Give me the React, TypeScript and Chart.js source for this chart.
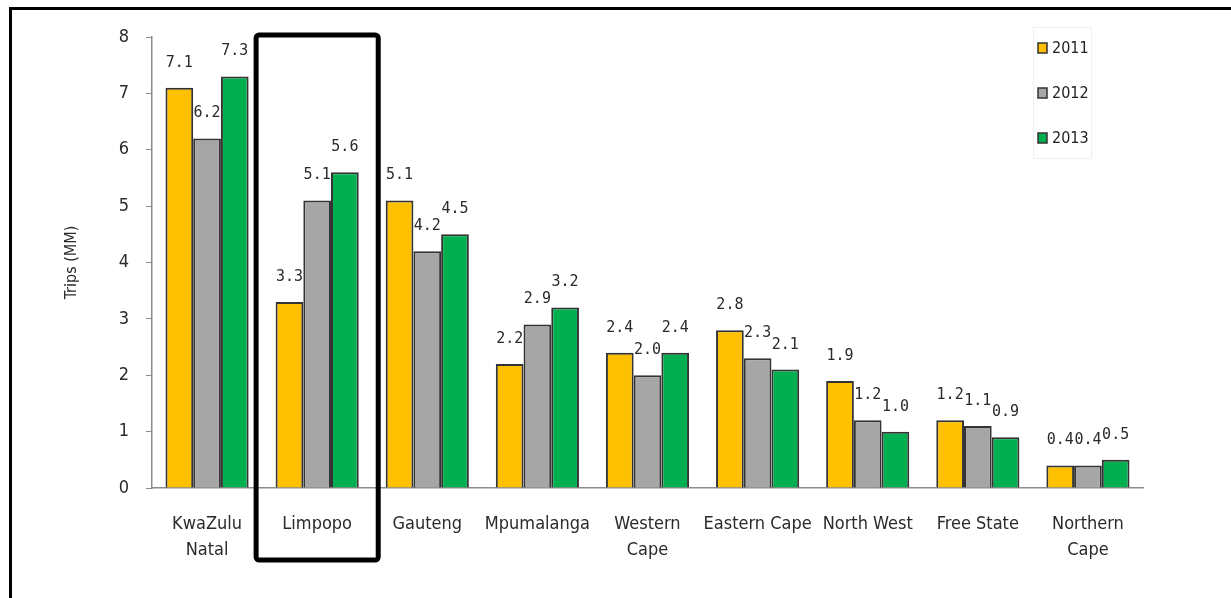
import React, { useEffect, useRef } from "react";
import { Chart, registerables } from "chart.js";

Chart.register(...registerables);

const categories: string[][] = [
  ["KwaZulu", "Natal"],
  ["Limpopo"],
  ["Gauteng"],
  ["Mpumalanga"],
  ["Western", "Cape"],
  ["Eastern Cape"],
  ["North West"],
  ["Free State"],
  ["Northern", "Cape"],
];
const years = ["2011", "2012", "2013"];
const values2011 = [7.1, 3.3, 5.1, 2.2, 2.4, 2.8, 1.9, 1.2, 0.4];
const values2012 = [6.2, 5.1, 4.2, 2.9, 2.0, 2.3, 1.2, 1.1, 0.4];
const values2013 = [7.3, 5.6, 4.5, 3.2, 2.4, 2.1, 1.0, 0.9, 0.5];
const yTicks = [0, 1, 2, 3, 4, 5, 6, 7, 8];
const colors = ["#FFC000", "#A6A6A6", "#00B050"];
const highlightIndex = 1;

const sans = "'DejaVu Sans Condensed', 'DejaVu Sans', sans-serif";
const mono = "'DejaVu Sans Mono', monospace";

export default function App() {
  const ref = useRef<HTMLCanvasElement | null>(null);

  useEffect(() => {
    if (!ref.current) return;
    const series = [values2011, values2012, values2013];

    const framePlugin = {
      id: "frame",
      beforeDraw(chart: any) {
        const ctx = chart.ctx;
        ctx.save();
        ctx.fillStyle = "#fff";
        ctx.fillRect(0, 0, chart.width, chart.height);
        ctx.fillStyle = "#000";
        ctx.fillRect(9, 7, chart.width - 9, 3);
        ctx.fillRect(9, 7, 3, chart.height - 7);
        ctx.restore();
      },
    };

    const labelPlugin = {
      id: "valueLabels",
      afterDatasetsDraw(chart: any) {
        const ctx = chart.ctx;
        ctx.save();
        ctx.font = `15px ${mono}`;
        ctx.fillStyle = "#2a2a2a";
        ctx.textAlign = "center";
        ctx.textBaseline = "middle";
        chart.data.datasets.forEach((ds: any, di: number) => {
          const meta = chart.getDatasetMeta(di);
          meta.data.forEach((el: any, i: number) => {
            ctx.fillText(Number(ds.data[i]).toFixed(1), el.x, el.y - 25);
          });
        });
        ctx.restore();
      },
    };

    const legendPlugin = {
      id: "customLegend",
      afterDraw(chart: any) {
        const ctx = chart.ctx;
        ctx.save();
        ctx.strokeStyle = "#efefef";
        ctx.lineWidth = 1;
        ctx.strokeRect(1033.5, 27.5, 58, 131);
        chart.data.datasets.forEach((ds: any, di: number) => {
          const y = 48 + di * 45;
          ctx.fillStyle = ds.backgroundColor;
          ctx.fillRect(1038, y - 5, 9, 10);
          ctx.strokeStyle = "#333";
          ctx.lineWidth = 1.5;
          ctx.strokeRect(1038, y - 5, 9, 10);
          ctx.fillStyle = "#222";
          ctx.font = `16px ${sans}`;
          ctx.textAlign = "left";
          ctx.textBaseline = "middle";
          ctx.fillText(ds.label, 1052, y + 1);
        });
        ctx.restore();
      },
    };

    const boxPlugin = {
      id: "highlightBox",
      afterDraw(chart: any) {
        const ctx = chart.ctx;
        const xs = chart.scales.x;
        const area = chart.chartArea;
        const cx = xs.getPixelForValue(highlightIndex);
        const half = (xs.getPixelForValue(1) - xs.getPixelForValue(0)) / 2 + 6;
        ctx.save();
        ctx.strokeStyle = "#000";
        ctx.lineWidth = 5;
        ctx.lineJoin = "round";
        ctx.beginPath();
        ctx.roundRect(cx - half, area.top - 2, half * 2, area.bottom - area.top + 74, 3);
        ctx.stroke();
        ctx.restore();
      },
    };

    const chart = new Chart(ref.current, {
      type: "bar",
      data: {
        labels: categories,
        datasets: years.map((y, i) => ({
          label: y,
          data: series[i],
          backgroundColor: colors[i],
          borderColor: "#333333",
          borderWidth: 2,
          categoryPercentage: 0.755,
          barPercentage: 1,
        })),
      },
      options: {
        animation: false,
        responsive: false,
        layout: { padding: { left: 58, right: 88, top: 37, bottom: 0 } },
        plugins: {
          legend: { display: false },
          tooltip: { enabled: false },
        },
        scales: {
          x: {
            grid: { display: false, drawTicks: false },
            border: { color: "#8c8c8c", width: 1.5 },
            ticks: {
              color: "#2a2a2a",
              font: { family: sans, size: 18, lineHeight: 1.45 },
              padding: 23,
              maxRotation: 0,
              autoSkip: false,
            },
            afterFit: (s: any) => {
              s.height = 110;
            },
          },
          y: {
            min: 0,
            max: 8,
            afterBuildTicks: (s: any) => {
              s.ticks = yTicks.map((v) => ({ value: v }));
            },
            grid: {
              display: true,
              drawOnChartArea: false,
              drawTicks: true,
              tickLength: 6,
              color: "#8c8c8c",
            },
            border: { color: "#8c8c8c", width: 1.5 },
            ticks: {
              color: "#2a2a2a",
              font: { family: sans, size: 18 },
              padding: 17,
            },
            title: {
              display: true,
              text: "Trips (MM)",
              color: "#2a2a2a",
              font: { family: sans, size: 16 },
              padding: { top: 4, bottom: 4 },
            },
            afterFit: (s: any) => {
              s.width = 94;
            },
          },
        },
      },
      plugins: [framePlugin, labelPlugin, legendPlugin, boxPlugin],
    });
    return () => chart.destroy();
  }, []);

  return (
    <div style={{ position: "fixed", left: 0, top: 0, width: 1231, height: 598, background: "#fff", overflow: "hidden" }}>
      <canvas ref={ref} width={1231} height={598} style={{ position: "absolute", left: 0, top: 0, width: 1231, height: 598 }} />
    </div>
  );
}
